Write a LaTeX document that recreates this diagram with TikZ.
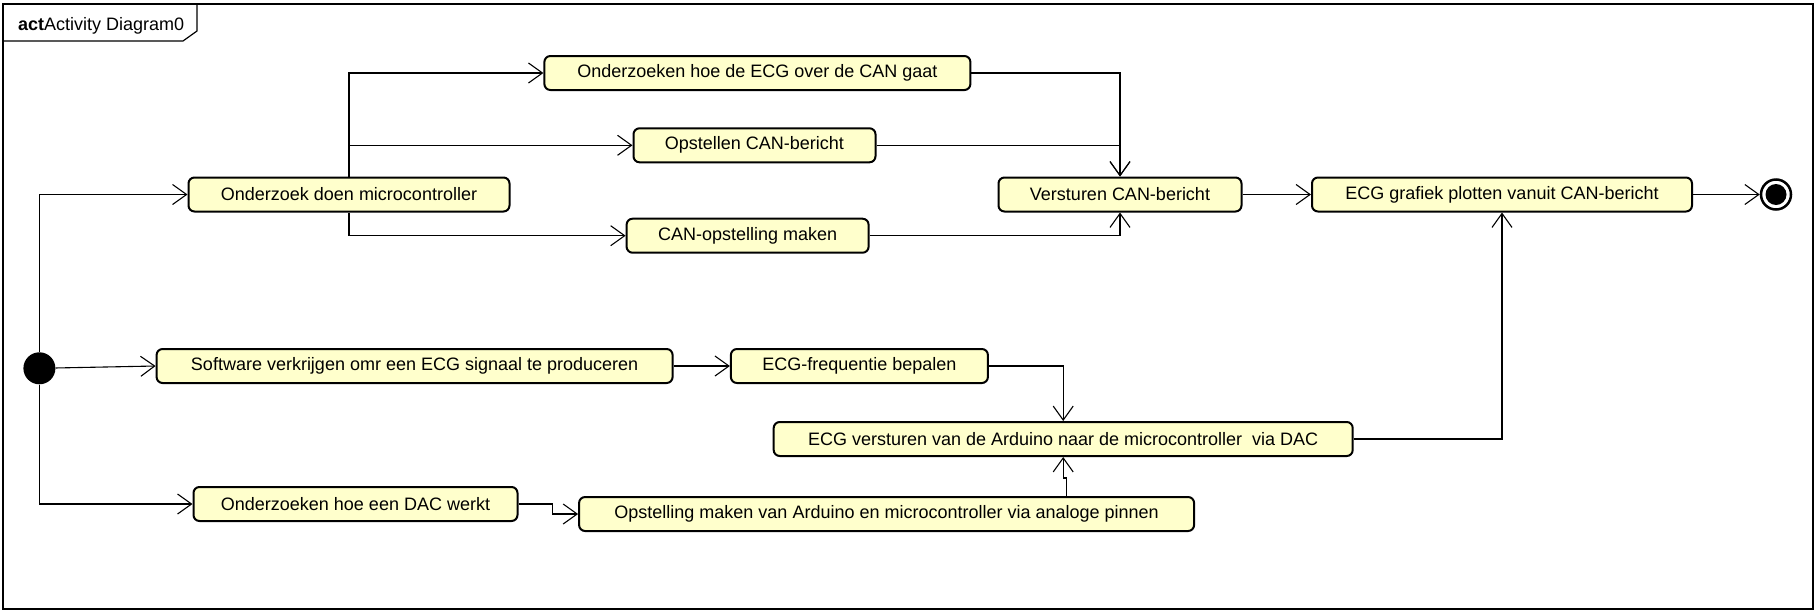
\documentclass[tikz,border=0pt]{standalone}
\usepackage{fontspec}
\setmainfont{Liberation Sans}
\usetikzlibrary{arrows.meta}
\definecolor{actfill}{HTML}{FFFFCC}
\tikzset{
  actbox/.style={draw, line width=2pt, rounded corners=6pt, fill=actfill,
    minimum height=34pt, inner sep=0pt, font=\fontsize{18}{20}\selectfont},
  flow/.style={line width=1.1pt, -{Straight Barb[length=14pt,width=20pt,line width=1.1pt]}},
  frameline/.style={line width=1.5pt}
}
\begin{document}
\begin{tikzpicture}[x=1pt,y=-1pt]
\useasboundingbox (0,0) rectangle (1816,611);
% frame
\draw[frameline] (3,4) rectangle (1813,609);
\draw[line width=1.2pt] (3,41) -- (183,41) -- (197,31) -- (197,4);
\node[anchor=base west, inner sep=0pt, font=\fontsize{18}{20}\selectfont] (lbl) at (18,30) {\textbf{act}Activity Diagram0};
% nodes
\node[circle, fill=black, minimum size=32pt, inner sep=0pt] (start) at (39.4,368.3) {};
\node[actbox, minimum width=321pt] (odm) at (349,194.5) {Onderzoek doen microcontroller};
\node[actbox, minimum width=516pt] (sw) at (414.6,366) {Software verkrijgen omr een ECG signaal te produceren};
\node[actbox, minimum width=324pt] (dac) at (355.5,504) {Onderzoeken hoe een DAC werkt};
\node[actbox, minimum width=426pt] (eoc) at (757.4,73) {Onderzoeken hoe de ECG over de CAN gaat};
\node[actbox, minimum width=242pt] (ocb) at (754.5,145.3) {Opstellen CAN-bericht};
\node[actbox, minimum width=242pt] (com) at (747.6,235.7) {CAN-opstelling maken};
\node[actbox, minimum width=243pt] (vcb) at (1120,194.5) {Versturen CAN-bericht};
\node[actbox, minimum width=380pt] (egp) at (1502,194.5) {ECG grafiek plotten vanuit CAN-bericht};
\node[circle, draw, line width=2.5pt, fill=white, minimum size=30pt, inner sep=0pt] (fin) at (1776,194.5) {};
\fill (fin.center) circle (10.5);
\node[actbox, minimum width=257pt] (efb) at (859.4,366) {ECG-frequentie bepalen};
\node[actbox, minimum width=579pt] (eva) at (1063.2,439) {ECG versturen van de Arduino naar de microcontroller\ \ via DAC};
\node[actbox, minimum width=615pt] (oma) at (886.6,514) {Opstelling maken van Arduino en microcontroller via analoge pinnen};
% edges
\draw[flow] (start) |- (odm.west);
\draw[flow] (start) -- (sw.west);
\draw[flow] (start) |- (dac.west);
\draw[flow] (odm.north) |- (eoc.west);
\draw[flow] (odm.north) |- (ocb.west);
\draw[flow] (odm.south) |- (com.west);
\draw[flow] (eoc.east) -| (vcb.north);
\draw[flow] (ocb.east) -| (vcb.north);
\draw[flow] (com.east) -| (vcb.south);
\draw[flow] (vcb) -- (egp);
\draw[flow] (egp) -- (fin);
\draw[flow] (sw) -- (efb);
\draw[flow] (efb.east) -| (eva.north);
\draw[flow] (eva.east) -| (egp.south);
\draw[flow] (dac.east) -- ++(34,0) |- (oma.west);
\draw[flow] ([xshift=3.5pt]eva.south |- oma.north) -- ++(0,-18) -| (eva.south);
\end{tikzpicture}
\end{document}
